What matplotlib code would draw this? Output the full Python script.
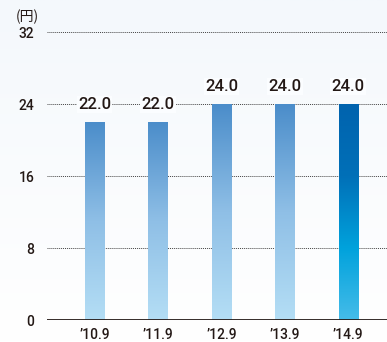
import numpy as np
import matplotlib.pyplot as plt
from matplotlib.colors import LinearSegmentedColormap
from matplotlib.patches import Rectangle

plt.rcParams['font.family'] = ['Roboto', 'Noto Sans CJK JP', 'DejaVu Sans']

periods = ["\u201910.9", "\u201911.9", "\u201912.9", "\u201913.9", "\u201914.9"]
dividends = [22.0, 22.0, 24.0, 24.0, 24.0]

fig = plt.figure(figsize=(3.87, 3.42), dpi=100)
# pale blue-white page background
bg = fig.add_axes([0, 0, 1, 1], zorder=-10)
bgimg = np.linspace(0, 1, 256).reshape(-1, 1)
bg.imshow(bgimg, aspect='auto', extent=[0, 1, 0, 1],
          cmap=LinearSegmentedColormap.from_list('bg', ['#f4f8fc', '#ffffff']))
bg.axis('off')

ax = fig.add_axes([47/387, 22/342, 340/387, 288/342])
ax.patch.set_alpha(0)

old = LinearSegmentedColormap.from_list('old', ['#b4def5', '#8fbfe6', '#4b8dca'])
new = LinearSegmentedColormap.from_list('new', ['#45bce9', '#00a2dc', '#0070b8', '#0063ae'])
grad = np.linspace(0, 1, 256).reshape(-1, 1)
w = 0.30
for i, v in enumerate(dividends):
    cmap = new if i == len(dividends) - 1 else old
    im = ax.imshow(grad, aspect='auto', origin='lower', cmap=cmap,
                   extent=[i - w/2, i + w/2, 0, v], zorder=3)
    clip = Rectangle((i - w/2, 0), w, v, transform=ax.transData)
    im.set_clip_path(clip)
    ax.text(i, v + 1.95, f"{v:.1f}", ha='center', va='center', fontsize=12,
            fontweight='medium', color='#231815', zorder=5,
            bbox=dict(facecolor='#fbfdff', edgecolor='none', pad=1.0))
ax.set_xlim(-0.75, 4.61)
ax.set_ylim(0, 32)

for y in [8, 16, 24, 32]:
    ax.axhline(y, color='#444444', lw=0.7, ls=(0, (1, 1)), zorder=1)
ax.axhline(0, color='#231815', lw=2, zorder=4)

ax.set_yticks([0, 8, 16, 24, 32])
ax.set_xticks(range(len(periods)))
ax.set_xticklabels(periods)
ax.tick_params(length=0, labelsize=10, colors='#231815')
ax.tick_params(axis='y', pad=9)
ax.tick_params(axis='x', pad=6)
for t in ax.get_xticklabels() + ax.get_yticklabels():
    t.set_fontweight('medium')
for s in ax.spines.values():
    s.set_visible(False)

fig.text(16/387, 1 - 17/342, "(円)", fontsize=10, color='#231815', va='center',
         family=['Noto Sans CJK JP', 'DejaVu Sans'])

fig.savefig('out.png', dpi=100)
